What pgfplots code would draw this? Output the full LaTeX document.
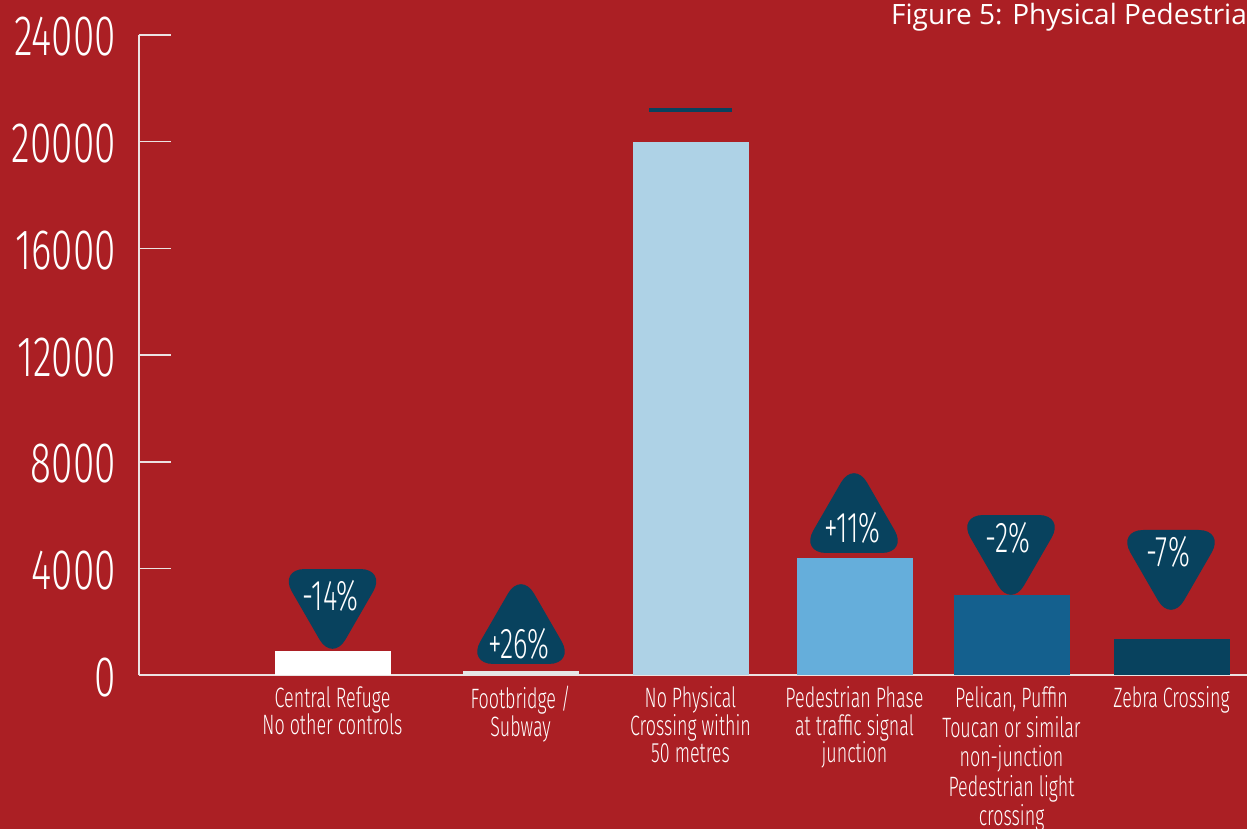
\documentclass[border=0pt]{standalone}
\usepackage{pgfplots}
\pgfplotsset{compat=1.18}
\usepackage{fontspec}
\setmainfont{Open Sans}
\newfontfamily\cond[FakeStretch=0.64]{Fira Sans Light}
\newfontfamily\condt[FakeStretch=0.68]{Fira Sans Light}
\definecolor{bg}{HTML}{AB1F24}
\definecolor{axisc}{RGB}{236,226,226}
\definecolor{navy}{HTML}{08425E}
\definecolor{cA}{HTML}{FFFFFF}
\definecolor{cB}{HTML}{E6E6E6}
\definecolor{cC}{HTML}{AED2E6}
\definecolor{cD}{HTML}{65AEDB}
\definecolor{cE}{HTML}{14608E}
\definecolor{cF}{HTML}{08425E}
\begin{document}
\begin{tikzpicture}[x=1pt,y=1pt]
\useasboundingbox (0,0) rectangle (1247,829);
\fill[bg] (0,0) rectangle (1247,829);
\begin{axis}[
  at={(139pt,153.7pt)}, anchor=south west, scale only axis,
  width=1108pt, height=640.3pt,
  xmin=139, xmax=1247, ymin=0, ymax=24000,
  axis lines=left,
  axis line style={-, draw=axisc, line width=1.8pt},
  ytick={0,4000,8000,12000,16000,20000,24000},
  scaled y ticks=false,
  /pgf/number format/.cd, 1000 sep={}, assume math mode=true,
  /pgfplots/.cd,
  tick align=inside,
  major tick length=32pt,
  ytick style={draw=axisc, line width=1.5pt},
  xtick style={draw=none},
  xtick={332.5,520.5,690.5,854.5,1011.5,1171.5},
  xticklabels={{Central Refuge\\No other controls},
               {Footbridge /\\Subway},
               {No Physical\\Crossing within\\50 metres},
               {Pedestrian Phase\\at traffic signal\\junction},
               {Pelican, Puffin\\[2pt]Toucan or similar\\[2pt]non-junction\\[2pt]Pedestrian light\\[2pt]crossing},
               {Zebra Crossing}},
  xticklabel style={font=\cond\fontsize{28}{27.5}\selectfont, text=white, align=center, anchor=north, inner sep=0pt, yshift=-11pt},
  yticklabel style={font=\condt\fontsize{57}{57}\selectfont, text=white, anchor=east, inner sep=0pt, xshift=-23pt, yshift=-2pt},
  clip=false,
]
\addplot[ybar, bar width=116, bar shift=0pt, fill=cA, draw=none] coordinates {(332.5,910)};
\addplot[ybar, bar width=116, bar shift=0pt, fill=cB, draw=none] coordinates {(520.5,160)};
\addplot[ybar, bar width=116, bar shift=0pt, fill=cC, draw=none] coordinates {(690.5,20000)};
\addplot[ybar, bar width=116, bar shift=0pt, fill=cD, draw=none] coordinates {(854.5,4400)};
\addplot[ybar, bar width=116, bar shift=0pt, fill=cE, draw=none] coordinates {(1011.5,3000)};
\addplot[ybar, bar width=116, bar shift=0pt, fill=cF, draw=none] coordinates {(1171.5,1360)};
\addplot[navy, line width=4pt] coordinates {(649,21200) (732,21200)};
\coordinate (b1) at (axis cs:332.5,3984);
\coordinate (b2) at (axis cs:521,424);
\coordinate (b3) at (axis cs:854,4584);
\coordinate (b4) at (axis cs:1011,6008);
\coordinate (b5) at (axis cs:1171,5446);
\end{axis}
\tikzset{badge/.style={fill=navy, rounded corners=26pt}}
\fill[badge, shift={(b1)}] (-53.7,0) -- (53.7,0) -- (0,-93) -- cycle;
\fill[badge, shift={(b4)}] (-53.7,0) -- (53.7,0) -- (0,-93) -- cycle;
\fill[badge, shift={(b5)}] (-53.7,0) -- (53.7,0) -- (0,-93) -- cycle;
\fill[badge, shift={(b2)}] (-53.7,0) -- (53.7,0) -- (0,93) -- cycle;
\fill[badge, shift={(b3)}] (-53.7,0) -- (53.7,0) -- (0,93) -- cycle;
\tikzset{pct/.style={font=\cond\fontsize{43}{43}\selectfont, text=white, anchor=base, inner sep=0pt}}
\node[pct] at ([xshift=-2pt,yshift=-41.7pt]b1) {-14\%};
\node[pct] at ([xshift=-3pt,yshift=-37.3pt]b4) {-2\%};
\node[pct] at ([xshift=-2.7pt,yshift=-36.4pt]b5) {-7\%};
\node[pct] at ([xshift=-2pt,yshift=5pt]b2) {+26\%};
\node[pct] at ([xshift=-1.5pt,yshift=10.3pt]b3) {+11\%};
\node[anchor=base west, text=white, font=\fontsize{28}{28}\selectfont, inner sep=0pt] at (891,804) {Figure 5: Physical Pedestria};
\end{tikzpicture}
\end{document}
